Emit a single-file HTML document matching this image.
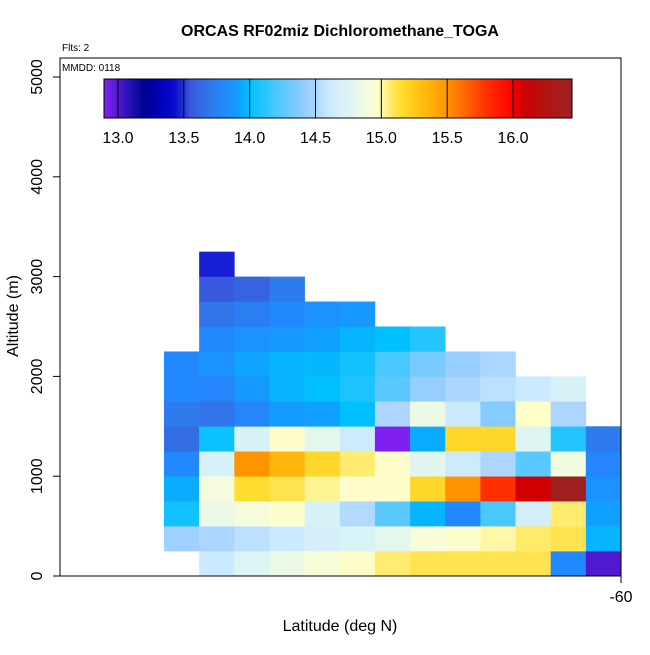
<!DOCTYPE html>
<html><head><meta charset="utf-8"><style>
body{margin:0;background:#fff;}
svg text{font-family:"Liberation Sans",sans-serif;}
</style></head><body>
<svg id="chart" width="650" height="650" viewBox="0 0 650 650">
<text x="340" y="36" text-anchor="middle" font-size="16" font-weight="bold">ORCAS RF02miz Dichloromethane_TOGA</text>
<text x="62" y="51" font-size="10">Flts: 2</text>
<g id="cells"></g>
<rect x="60" y="58" width="561" height="518" fill="none" stroke="#000" stroke-width="1"/>
<text x="62" y="71" font-size="10">MMDD: 0118</text>
<g id="cbar"></g>
<g id="axes"></g>
<text x="340" y="631" text-anchor="middle" font-size="16">Latitude (deg N)</text>
<text transform="translate(14,316) rotate(-90)" text-anchor="middle" font-size="16" dominant-baseline="middle">Altitude (m)</text>
</svg>
<script>
// columns (latitude bins, west->east) and altitude rows (250 m each, from 0 m)
const colCount = 13;
const rowHeightM = 250;
// values per column, bottom row upward; null = no data
const col0 = [null,14.45,14.05,13.95,13.8,13.65,13.72,13.8,13.8];
const col1 = [14.6,14.5,14.85,14.9,14.7,14.03,13.68,13.78,13.85,13.8,13.68,13.55,13.47];
const col2 = [14.75,14.55,14.9,15.15,15.5,14.7,13.78,13.88,13.93,13.85,13.74,13.6];
const col3 = [14.85,14.6,14.98,15.1,15.35,14.98,13.9,13.97,13.97,13.88,13.8,13.72];
const col4 = [14.92,14.68,14.7,15.03,15.18,14.8,13.92,14.0,13.98,13.92,13.85];
const col5 = [14.98,14.72,14.52,14.98,15.05,14.62,14.0,14.08,14.05,13.97,13.88];
const col6 = [15.05,14.8,14.25,14.98,14.98,12.9,14.5,14.25,14.2,14.0];
const col7 = [15.1,14.92,13.97,15.18,14.78,13.95,14.85,14.42,14.33,14.1];
const col8 = [15.1,14.98,13.8,15.5,14.62,15.18,14.6,14.5,14.42];
const col9 = [15.1,15.02,14.2,15.8,14.5,15.18,14.37,14.55,14.5];
const col10 = [15.1,15.06,14.66,16.05,14.25,14.76,15.0,14.6];
const col11 = [13.8,15.1,15.05,16.4,14.88,14.1,14.5,14.7];
const col12 = [13.0,13.97,13.92,13.85,13.78,13.72];
const columns = [col0,col1,col2,col3,col4,col5,col6,col7,col8,col9,col10,col11,col12];
const yTicks = [0,1000,2000,3000,4000,5000];
const cbTicks = [13.0,13.5,14.0,14.5,15.0,15.5,16.0];
const cmapV = [12.9,13.0,13.1,13.2,13.35,13.45,13.55,13.7,13.8,13.92,14.0,14.2,14.4,14.5,14.6,14.75,14.9,15.0,15.05,15.15,15.3,15.5,15.8,16.0,16.05,16.4];
const cmapC = ["#8020f0","#5018d0","#2010b0","#000090","#0000c0","#1010d0","#3858dd","#3078e8","#2288ff","#10a0ff","#00c0ff","#48c8ff","#90ccff","#acd6ff","#cceaff","#dcf4f4","#f4fcdc","#ffffc8","#ffec70","#ffdc30","#ffc010","#ff9400","#ff3000","#ff0000","#d00000","#a02020"];

const NS="http://www.w3.org/2000/svg";
function hex(c){return [1,3,5].map(i=>parseInt(c.substr(i,2),16));}
function color(v){
  if(v<=cmapV[0]) return cmapC[0];
  for(let i=1;i<cmapV.length;i++){
    if(v<=cmapV[i]){
      const t=(v-cmapV[i-1])/(cmapV[i]-cmapV[i-1]);
      const a=hex(cmapC[i-1]),b=hex(cmapC[i]);
      return "rgb("+a.map((x,k)=>Math.round(x+(b[k]-x)*t)).join(",")+")";
    }
  }
  return cmapC[cmapC.length-1];
}
const x0=164,x1=621;
function xCol(i){return x0+(x1-x0)*i/colCount;}
function yAlt(m){return 576-m*(576-77)/5000;}
function xCb(v){return 118+(v-13)*(513-118)/3;}

const cells=document.getElementById('cells');
columns.forEach((col,ci)=>{
  col.forEach((v,ri)=>{
    if(v===null) return;
    const r=document.createElementNS(NS,'rect');
    const ya=yAlt((ri+1)*rowHeightM), yb=yAlt(ri*rowHeightM);
    r.setAttribute('x',xCol(ci));r.setAttribute('y',ya);
    r.setAttribute('width',xCol(ci+1)-xCol(ci)+0.3);r.setAttribute('height',yb-ya+0.3);
    r.setAttribute('fill',color(v));
    
    
    cells.appendChild(r);
  });
});

// colorbar
const cb=document.getElementById('cbar');
const cbL=104,cbR=572;
const vL=13+(cbL-118)*3/(513-118), vR=13+(cbR-118)*3/(513-118);
const grad=document.createElementNS(NS,'linearGradient');
grad.setAttribute('id','cbg');
for(let i=0;i<=60;i++){
  const v=vL+(vR-vL)*i/60;
  const s=document.createElementNS(NS,'stop');
  s.setAttribute('offset',(i/60*100)+'%');s.setAttribute('stop-color',color(v));
  grad.appendChild(s);
}
const defs=document.createElementNS(NS,'defs');defs.appendChild(grad);cb.appendChild(defs);
const cbr=document.createElementNS(NS,'rect');
cbr.setAttribute('x',cbL);cbr.setAttribute('y',79);cbr.setAttribute('width',cbR-cbL);cbr.setAttribute('height',39);
cbr.setAttribute('fill','url(#cbg)');cbr.setAttribute('stroke','#000');


cb.appendChild(cbr);
cbTicks.forEach(v=>{
  const l=document.createElementNS(NS,'line');
  l.setAttribute('x1',xCb(v));l.setAttribute('x2',xCb(v));l.setAttribute('y1',79);l.setAttribute('y2',118);
  l.setAttribute('stroke','#000');
  
  
  cb.appendChild(l);
  const t=document.createElementNS(NS,'text');
  t.setAttribute('x',xCb(v));t.setAttribute('y',143);t.setAttribute('text-anchor','middle');t.setAttribute('font-size','16');
  t.textContent=v.toFixed(1);
  
  
  cb.appendChild(t);
});

// axes
const ax=document.getElementById('axes');
yTicks.forEach(m=>{
  const y=yAlt(m);
  const l=document.createElementNS(NS,'line');
  l.setAttribute('x1',53);l.setAttribute('x2',60);l.setAttribute('y1',y);l.setAttribute('y2',y);l.setAttribute('stroke','#000');
  
  
  ax.appendChild(l);
  const t=document.createElementNS(NS,'text');
  t.setAttribute('transform','translate(42,'+y+') rotate(-90)');
  t.setAttribute('text-anchor','middle');t.setAttribute('font-size','16');
  t.textContent=m;
  
  
  ax.appendChild(t);
});
const xl=document.createElementNS(NS,'line');
xl.setAttribute('x1',621);xl.setAttribute('x2',621);xl.setAttribute('y1',576);xl.setAttribute('y2',583);xl.setAttribute('stroke','#000');


ax.appendChild(xl);
const xt=document.createElementNS(NS,'text');
xt.setAttribute('x',621);xt.setAttribute('y',602);xt.setAttribute('text-anchor','middle');xt.setAttribute('font-size','16');
xt.textContent='-60';


ax.appendChild(xt);
</script>
</body></html>
